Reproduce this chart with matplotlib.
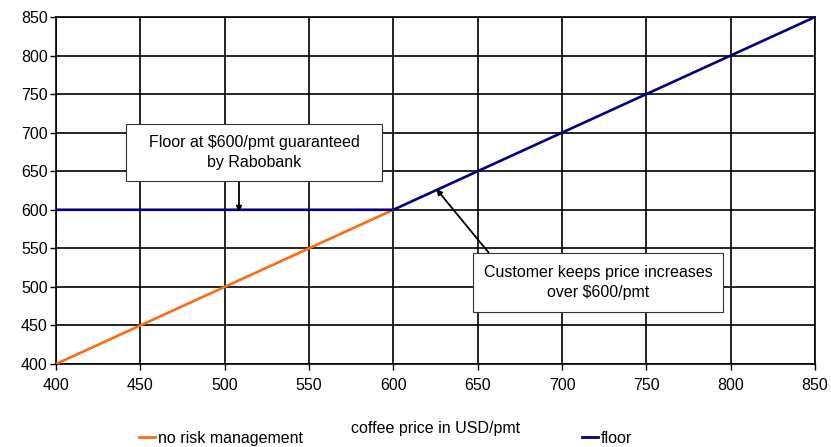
import matplotlib
matplotlib.use("Agg")
import matplotlib.pyplot as plt
from matplotlib.patches import Rectangle
from matplotlib.lines import Line2D

plt.rcParams['font.family'] = ['Liberation Sans', 'DejaVu Sans']

# Data
prices = [400, 450, 500, 550, 600, 650, 700, 750, 800, 850]
no_risk_x = [400, 450, 500, 550, 600]
no_risk_y = [400, 450, 500, 550, 600]
floor_y = [600, 600, 600, 600, 600, 650, 700, 750, 800, 850]
ticks = [400, 450, 500, 550, 600, 650, 700, 750, 800, 850]

orange = '#FF6A13'
navy = '#000080'
FS = 11.5

fig = plt.figure(figsize=(8.31, 4.47), dpi=100)
ax = fig.add_axes([56/831, 1-364/447, (815-56)/831, (364-17)/447])

ax.plot(no_risk_x, no_risk_y, color=orange, lw=1.9, zorder=3, solid_capstyle='butt')
ax.plot(prices, floor_y, color=navy, lw=1.9, zorder=4, solid_capstyle='butt')

ax.set_xlim(400, 850)
ax.set_ylim(400, 850)
ax.set_xticks(ticks)
ax.set_yticks(ticks)
ax.grid(True, color='black', lw=1.2)
ax.set_axisbelow(True)
for s in ax.spines.values():
    s.set_color('black')
    s.set_linewidth(1.2)
ax.tick_params(axis='both', direction='out', length=4, width=1.0, colors='black', labelsize=FS)
ax.tick_params(axis='x', pad=6)
ax.tick_params(axis='y', pad=2)
ax.set_xlabel('coffee price in USD/pmt', fontsize=FS, labelpad=20)

# Annotation boxes
def box(x0, y0, x1, y1, txt):
    ax.add_patch(Rectangle((x0, y0), x1 - x0, y1 - y0, facecolor='white',
                           edgecolor='#333333', lw=0.8, zorder=6))
    ax.text((x0 + x1) / 2, (y0 + y1) / 2, txt, ha='center', va='center',
            fontsize=FS, zorder=7, linespacing=1.45)

box(441.5, 637.0, 593.5, 711.0, 'Floor at $600/pmt guaranteed\nby Rabobank')
box(647.5, 467.5, 795.5, 544.0, 'Customer keeps price increases\nover $600/pmt')

ax.annotate('', xy=(508.5, 597), xytext=(508.5, 637),
            arrowprops=dict(arrowstyle='-|>', color='black', lw=1.3,
                            mutation_scale=8, shrinkA=0, shrinkB=0), zorder=5)
ax.annotate('', xy=(625.5, 627), xytext=(656.5, 544.5),
            arrowprops=dict(arrowstyle='-|>', color='black', lw=1.3,
                            mutation_scale=8, shrinkA=0, shrinkB=0), zorder=5)

# Legend
handles = [Line2D([], [], color=orange, lw=2), Line2D([], [], color=navy, lw=2)]
fig.legend(handles, ['no risk management', 'floor'], loc='lower left',
           bbox_to_anchor=(133/831, -0.012), ncol=2, frameon=False,
           fontsize=FS, handlelength=1.0, handletextpad=0.15,
           columnspacing=17.5, borderaxespad=0)

fig.savefig('out.png', dpi=100)
